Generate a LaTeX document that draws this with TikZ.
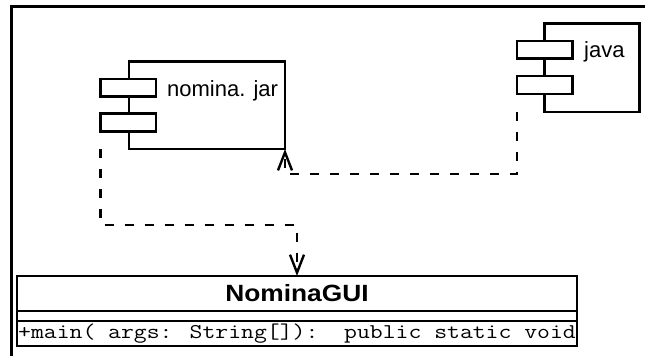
\documentclass[tikz,border=0pt]{standalone}
\usepackage{fontspec}
\setmainfont{Liberation Sans}
\usetikzlibrary{arrows.meta,calc}
\begin{document}
\begin{tikzpicture}[x=1pt,y=-1pt,
  box/.style={draw,line width=2.4pt,inner sep=0pt,outer sep=0pt,fill=white},
  port/.style={box,minimum width=55.5pt,minimum height=17.7pt},
  dep/.style={line width=2.4pt,dash pattern=on 9pt off 11pt,
    -{Straight Barb[length=18pt,width=14pt,line width=2.4pt]}},
  lbl/.style={font=\fontsize{22}{26}\selectfont,inner sep=0pt,anchor=base west},
  frameline/.style={line width=3pt}]
\useasboundingbox (0,0) rectangle (645,356);
% outer frame
\coordinate (fr) at (645,6.7);
\coordinate (fc) at (11.7,6.7);
\coordinate (fb) at (11.7,356);
\draw[frameline] (fr) -- (fc) -- (fb);
% nomina.jar component
\node[box,minimum width=156pt,minimum height=87.5pt] (nomina) at (207,105.3) {};
\node[port] (nsa) at (128.4,87.8) {};
\node[port] (nsb) at (128.4,122.5) {};
\node[lbl] (ntext) at (167,96) {nomina. jar};
% java component
\node[box,minimum width=95pt,minimum height=88.4pt] (java) at (592,67.5) {};
\node[port] (jsa) at (544.6,49.6) {};
\node[port] (jsb) at (544.6,85) {};
\node[lbl] (jtext) at (584,57.3) {java};
% NominaGUI class
\node[box,minimum width=560pt,minimum height=35pt] (gui) at (297,293.5)
  {\scalebox{1.12}[1]{\fontsize{23.5}{27}\selectfont\bfseries NominaGUI}};
\node[box,minimum width=560pt,minimum height=10pt] (attr) at (297,316) {};
\node[box,minimum width=560pt,minimum height=25pt] (ops) at (297,333.5) {};
\node[inner sep=0pt,anchor=base] (optext) at (297,338.5)
  {\scalebox{1.19}[1]{\fontsize{21}{25}\selectfont\ttfamily +main( args: String[]):\ \ public static void}};
% dependencies
\draw[dep] (jsb.west |- java.south) -- ++(0,62) -| (nomina.south east);
\draw[dep] (nsb.west |- nomina.south) -- ++(0,76) -| (gui.north);
\end{tikzpicture}
\end{document}
